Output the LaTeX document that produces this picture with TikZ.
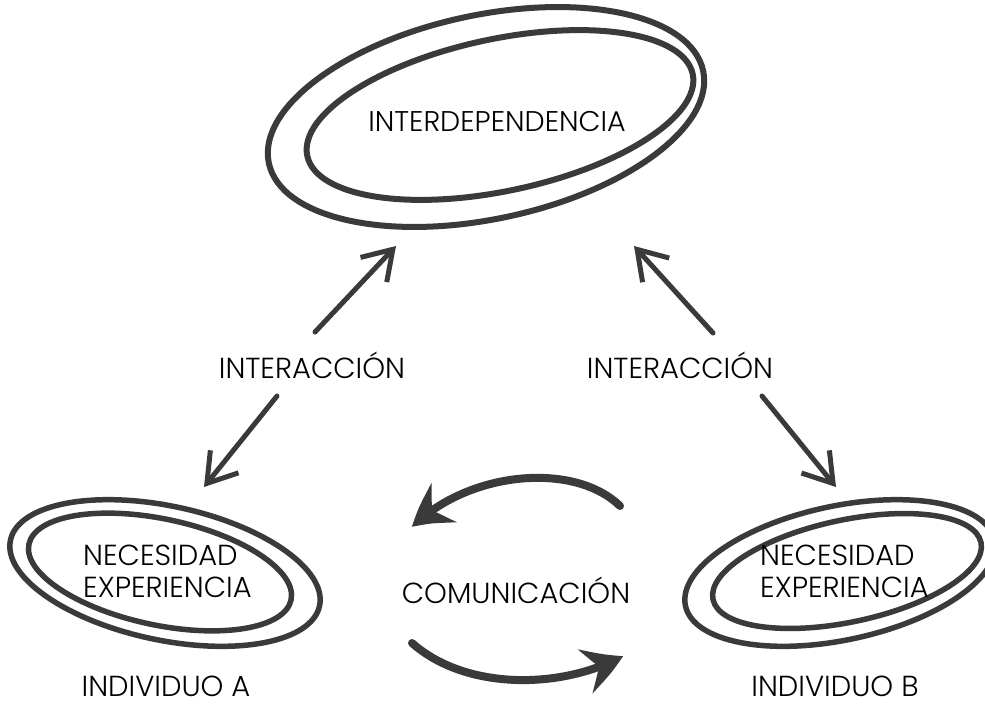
\documentclass[tikz,border=0pt]{standalone}
\usepackage{fontspec}
\IfFontExistsTF{Poppins Light}{\setmainfont{Poppins Light}}{\setmainfont{Poppins}}
\usetikzlibrary{arrows.meta,bending}
\definecolor{ink}{HTML}{3A3A3A}
\tikzset{
  loop/.style={draw=ink, line width=5.5pt},
  label/.style={font=\fontsize{29}{32}\selectfont, text=black, inner sep=0pt},
  straightarrow/.style={draw=ink, line width=5pt, line cap=round,
    -{Straight Barb[length=28pt,width=36pt,line width=5pt]}},
  bendarrow/.style={draw=ink, line width=8pt, line cap=round,
    -{Stealth[length=40pt,width=46pt,inset=14pt,bend]}},
}
\begin{document}
\begin{tikzpicture}[x=1pt,y=-1pt]
\useasboundingbox (0,0) rectangle (985,704);
% top ellipses
\draw[loop, line width=6pt, rotate around={12:(486,117)}] (486,117) ellipse (222 and 102);
\draw[loop, line width=6pt, rotate around={12:(500,115)}] (500,115) ellipse (197 and 76);
\node[label, font=\fontsize{28.5}{32}\selectfont] (inter) at (497,122) {INTERDEPENDENCIA};
% bottom left ellipses
\draw[loop, rotate around={-12:(165,573)}] (165,573) ellipse (158 and 67);
\draw[loop, rotate around={-12:(160,572)}] (160,572) ellipse (134 and 53);
\node[label, align=left, anchor=west] (nA) at (83,571) {NECESIDAD\\EXPERIENCIA};
\node[label] (indA) at (166,686) {INDIVIDUO A};
% bottom right ellipses
\draw[loop, rotate around={12:(840,573)}] (840,573) ellipse (158 and 67);
\draw[loop, rotate around={12:(847,571)}] (847,571) ellipse (137 and 51);
\node[label, align=left, anchor=west] (nB) at (760,571) {NECESIDAD\\EXPERIENCIA};
\node[label] (indB) at (835,686) {INDIVIDUO B};
% labels
\node[label] (iaL) at (312,365) {INTERACCIÓN};
\node[label] (iaR) at (680,365) {INTERACCIÓN};
\node[label] (com) at (516,590) {COMUNICACIÓN};
% straight arrows
\coordinate (l1s) at (315,332); \coordinate (l1e) at (396,246);
\coordinate (l2s) at (277,396); \coordinate (l2e) at (204,487);
\coordinate (r1s) at (713,333); \coordinate (r1e) at (634,246);
\coordinate (r2s) at (762,396); \coordinate (r2e) at (836,487);
\draw[straightarrow] (l1s) -- (l1e);
\draw[straightarrow] (l2s) -- (l2e);
\draw[straightarrow] (r1s) -- (r1e);
\draw[straightarrow] (r2s) -- (r2e);
% curved arrows
\coordinate (c1s) at (620,506); \coordinate (c1e) at (412,527);
\coordinate (c2s) at (412,643); \coordinate (c2e) at (623,656);
\draw[bendarrow] (c1s) .. controls (575,462) and (470,470) .. (c1e);
\draw[bendarrow] (c2s) .. controls (465,690) and (560,690) .. (c2e);
\end{tikzpicture}
\end{document}
